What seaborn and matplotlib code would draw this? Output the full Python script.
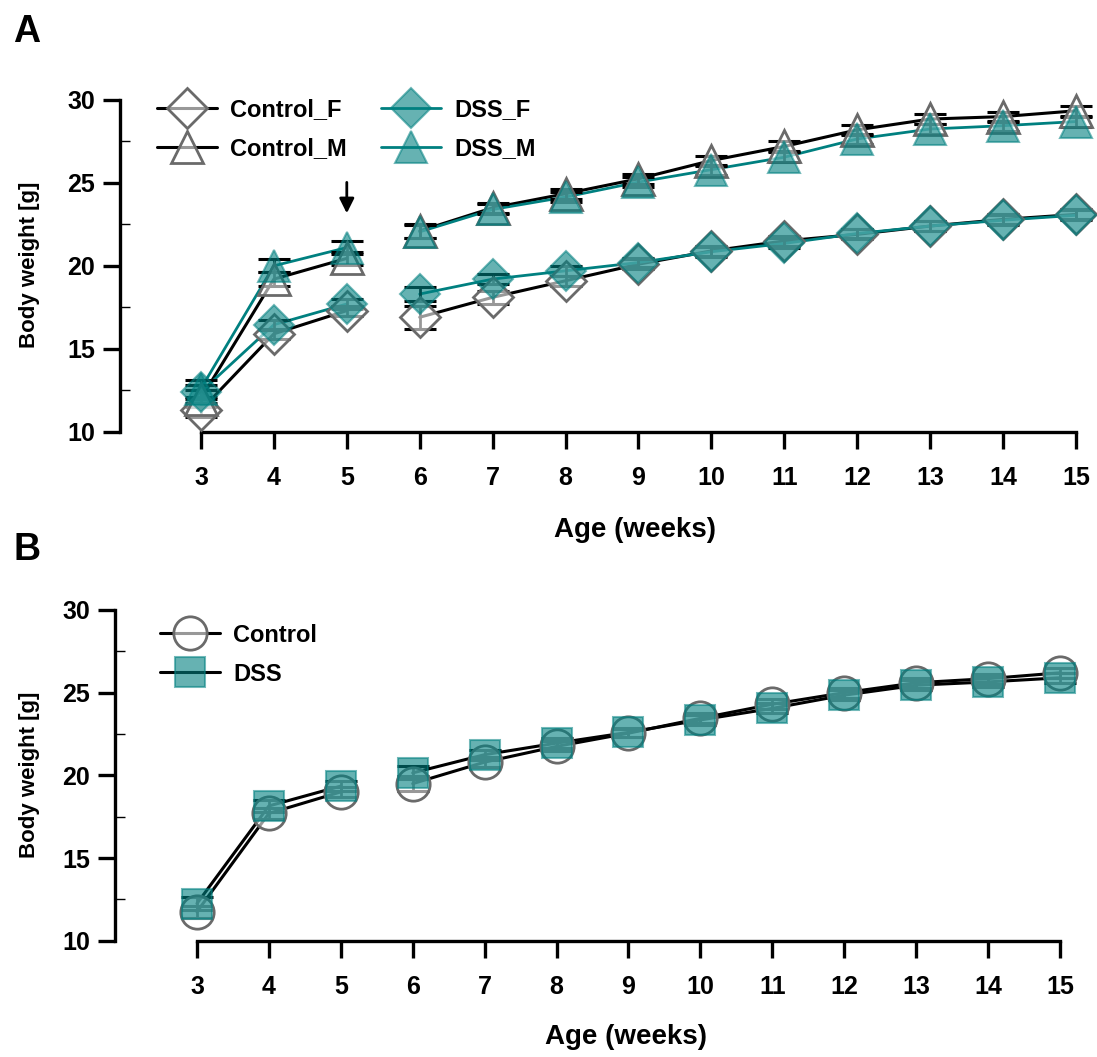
import numpy as np
import pandas as pd
import matplotlib
matplotlib.use("Agg")
import matplotlib.pyplot as plt
import seaborn as sns
from matplotlib.lines import Line2D
from matplotlib.ticker import MultipleLocator

# ---------------- data ----------------
weeks = [3, 4, 5, 6, 7, 8, 9, 10, 11, 12, 13, 14, 15]
segment = ["pre", "pre", "pre", "post", "post", "post", "post", "post",
           "post", "post", "post", "post", "post"]

# Panel A (sex-split)
control_f = [11.3, 15.9, 17.3, 16.9, 18.1, 19.1, 20.1, 20.9, 21.5, 21.9, 22.4, 22.8, 23.1]
dss_f = [12.4, 16.45, 17.7, 18.3, 19.2, 19.7, 20.2, 20.85, 21.35, 21.95, 22.4, 22.75, 23.05]
control_m = [12.0, 19.2, 20.45, 22.1, 23.5, 24.35, 25.25, 26.35, 27.2, 28.2, 28.85, 29.0, 29.35]
dss_m = [12.6, 20.0, 21.1, 22.05, 23.4, 24.15, 25.05, 25.8, 26.55, 27.65, 28.25, 28.45, 28.7]

sem_control_f = [0.4, 0.3, 0.3, 0.7, 0.4, 0.3, 0.3, 0.3, 0.3, 0.3, 0.3, 0.3, 0.3]
sem_dss_f = [0.4, 0.3, 0.3, 0.4, 0.3, 0.3, 0.3, 0.3, 0.3, 0.3, 0.3, 0.3, 0.3]
sem_control_m = [0.5, 0.4, 0.4, 0.4, 0.3, 0.3, 0.3, 0.3, 0.3, 0.3, 0.3, 0.3, 0.3]
sem_dss_m = [0.5, 0.4, 0.4, 0.4, 0.3, 0.3, 0.3, 0.3, 0.3, 0.3, 0.3, 0.3, 0.3]

# Panel B (pooled)
control = [11.75, 17.7, 19.0, 19.5, 20.8, 21.75, 22.55, 23.45, 24.3, 25.0, 25.6, 25.85, 26.2]
dss = [12.25, 18.15, 19.35, 20.15, 21.25, 21.95, 22.6, 23.35, 24.05, 24.85, 25.45, 25.65, 25.9]
sem_control = [0.35, 0.35, 0.3, 0.45, 0.3, 0.3, 0.25, 0.3, 0.3, 0.3, 0.3, 0.3, 0.3]
sem_dss = [0.4, 0.35, 0.3, 0.4, 0.3, 0.3, 0.25, 0.3, 0.3, 0.3, 0.3, 0.3, 0.3]

y_ticks = [10, 15, 20, 25, 30]

# ---------------- style ----------------
TEAL = "#008080"
FACE_DSS = (0.0, 0.5, 0.5, 0.6)
EDGE_DSS = (0.0, 0.5, 0.5, 0.55)
FACE_CTRL = (1.0, 1.0, 1.0, 0.6)
EDGE_CTRL = "#6a6a6a"

sns.set_theme(style="ticks")
plt.rcParams["font.family"] = ["Liberation Sans", "DejaVu Sans"]
plt.rcParams["font.weight"] = "bold"
plt.rcParams["axes.labelweight"] = "bold"
for key in ("text.color", "axes.labelcolor", "xtick.color", "ytick.color",
            "axes.edgecolor"):
    plt.rcParams[key] = "black"


def long_df(values, sems, group):
    return pd.DataFrame({"Week": weeks, "Weight": values, "SEM": sems,
                         "Group": group, "Segment": segment})


def draw_series(ax, df, line_color, lw, marker, ms, face, edge, mew):
    sns.lineplot(data=df, x="Week", y="Weight", units="Segment", estimator=None,
                 color=line_color, linewidth=lw, ax=ax, zorder=2, legend=False)
    eb = ax.errorbar(df["Week"], df["Weight"], yerr=df["SEM"], fmt="none",
                     ecolor="black", elinewidth=2.0, capsize=11.5, capthick=2.2,
                     zorder=2.5)
    for art in eb.lines[1] + eb.lines[2]:
        art.set_clip_on(False)
    sns.lineplot(data=df, x="Week", y="Weight", units="Segment", estimator=None,
                 color=line_color, linestyle="", marker=marker, markersize=ms,
                 markerfacecolor=face, markeredgecolor=edge, markeredgewidth=mew,
                 ax=ax, zorder=3, legend=False)
    for ln in ax.get_lines():
        ln.set_clip_on(False)


def style_axis(ax, xlim, ylabel_coords, xlabel_coords):
    ax.set_xlim(*xlim)
    ax.set_ylim(10, 30)
    sns.despine(ax=ax)
    ax.spines["left"].set_bounds(10, 30)
    ax.spines["bottom"].set_bounds(3, 15)
    for s in ("left", "bottom"):
        ax.spines[s].set_linewidth(2.4)
        ax.spines[s].set_color("black")
    ax.set_xticks(weeks)
    ax.set_yticks(y_ticks)
    ax.yaxis.set_minor_locator(MultipleLocator(2.5))
    ax.tick_params(which="major", direction="out", length=12, width=2.4,
                   labelsize=18, color="black", labelcolor="black")
    ax.tick_params(axis="x", which="major", pad=13)
    ax.tick_params(axis="y", which="major", pad=6)
    ax.tick_params(axis="y", which="minor", direction="in", length=7, width=1.0,
                   color="black")
    for lab in ax.get_xticklabels() + ax.get_yticklabels():
        lab.set_fontweight("bold")
    ax.set_xlabel("Age (weeks)", fontsize=20, fontweight="bold", color="black")
    ax.set_ylabel("Body weight [g]", fontsize=16, fontweight="bold", color="black")
    ax.yaxis.set_label_coords(*ylabel_coords)
    ax.xaxis.set_label_coords(*xlabel_coords)
    ax.grid(False)
    ax.set_facecolor("none")


fig = plt.figure(figsize=(10.97, 10.57), dpi=100)
axA = fig.add_axes([0.1094, 0.5916, 0.8751, 0.3138])
axB = fig.add_axes([0.1048, 0.1100, 0.8660, 0.3129])

# ---------------- panel A ----------------
draw_series(axA, long_df(control_f, sem_control_f, "Control_F"), "black", 2.2,
            "D", 20, FACE_CTRL, EDGE_CTRL, 2.0)
draw_series(axA, long_df(control_m, sem_control_m, "Control_M"), "black", 2.2,
            "^", 23, FACE_CTRL, EDGE_CTRL, 2.0)
draw_series(axA, long_df(dss_f, sem_dss_f, "DSS_F"), TEAL, 2.0,
            "D", 20, FACE_DSS, EDGE_DSS, 1.5)
draw_series(axA, long_df(dss_m, sem_dss_m, "DSS_M"), TEAL, 2.0,
            "^", 23, FACE_DSS, EDGE_DSS, 1.5)
style_axis(axA, (1.89, 15.055), (-0.083, 0.5026), (0.536, -0.258))

axA.annotate("", xy=(5, 23.0), xytext=(5, 25.2),
             arrowprops=dict(arrowstyle="-|>", color="black", lw=2,
                             mutation_scale=22))

handlesA = [
    Line2D([], [], color="black", lw=2.2, marker="D", ms=20, mfc=FACE_CTRL,
           mec=EDGE_CTRL, mew=2.0),
    Line2D([], [], color="black", lw=2.2, marker="^", ms=23, mfc=FACE_CTRL,
           mec=EDGE_CTRL, mew=2.0),
    Line2D([], [], color=TEAL, lw=2.0, marker="D", ms=20, mfc=FACE_DSS,
           mec=EDGE_DSS, mew=1.5),
    Line2D([], [], color=TEAL, lw=2.0, marker="^", ms=23, mfc=FACE_DSS,
           mec=EDGE_DSS, mew=1.5),
]
axA.legend(handles=handlesA, labels=["Control_F", "Control_M", "DSS_F", "DSS_M"],
           loc="upper left", bbox_to_anchor=(0.143, 0.907),
           bbox_transform=fig.transFigure, ncol=2, frameon=False,
           prop={"weight": "bold", "size": 17}, handlelength=2.55,
           handletextpad=0.55, columnspacing=1.44, labelspacing=0.68,
           borderpad=0, borderaxespad=0)

# ---------------- panel B ----------------
draw_series(axB, long_df(control, sem_control, "Control"), "black", 2.2,
            "o", 24, FACE_CTRL, EDGE_CTRL, 2.0)
draw_series(axB, long_df(dss, sem_dss, "DSS"), "black", 2.2,
            "s", 22, FACE_DSS, EDGE_DSS, 1.5)
style_axis(axB, (1.86, 15.07), (-0.079, 0.501), (0.538, -0.252))

handlesB = [
    Line2D([], [], color="black", lw=2.2, marker="o", ms=24, mfc=FACE_CTRL,
           mec=EDGE_CTRL, mew=2.0),
    Line2D([], [], color="black", lw=2.2, marker="s", ms=22, mfc=FACE_DSS,
           mec=EDGE_DSS, mew=1.5),
]
axB.legend(handles=handlesB, labels=["Control", "DSS"],
           loc="upper left", bbox_to_anchor=(0.146, 0.410),
           bbox_transform=fig.transFigure, ncol=1, frameon=False,
           prop={"weight": "bold", "size": 17}, handlelength=2.55,
           handletextpad=0.55, labelspacing=0.68, borderpad=0, borderaxespad=0)

fig.text(0.012, 0.987, "A", fontsize=27, fontweight="bold", va="top", ha="left")
fig.text(0.012, 0.497, "B", fontsize=27, fontweight="bold", va="top", ha="left")

fig.savefig("out.png", dpi=100)
